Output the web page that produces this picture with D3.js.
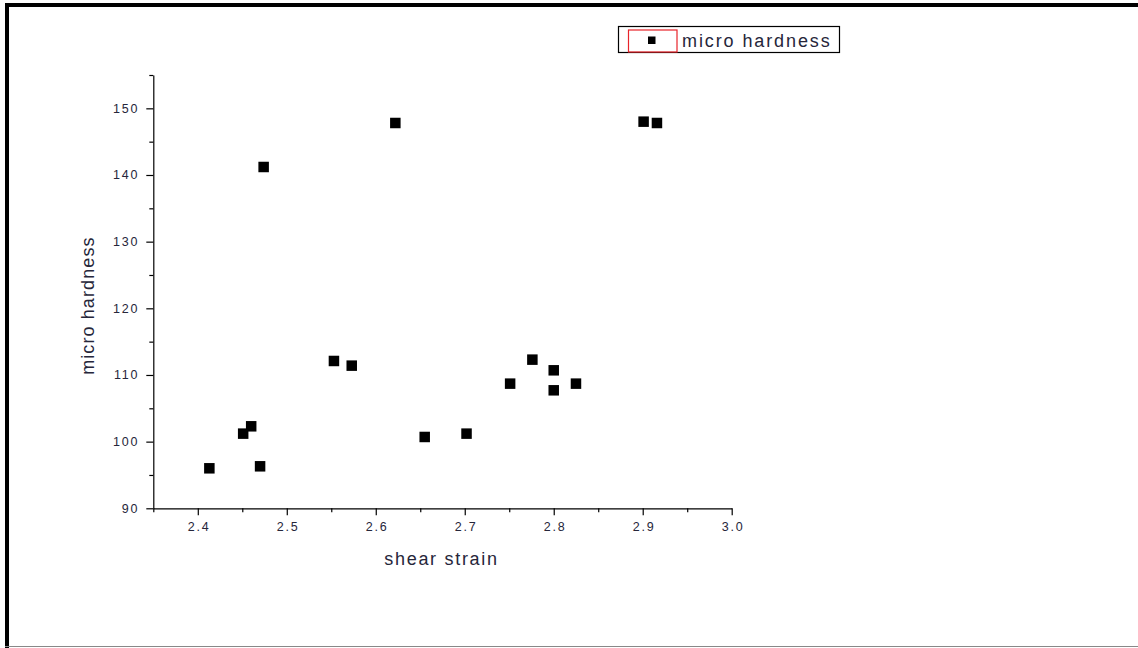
<!DOCTYPE html>
<html>
<head>
<meta charset="utf-8">
<script src="https://cdn.jsdelivr.net/npm/d3@7"></script>
<style>
  html, body { margin: 0; padding: 0; background: #fff; }
  svg { display: block; }
  text { font-family: "Liberation Sans", Arial, sans-serif; }
</style>
</head>
<body>
<svg id="chart" width="1138" height="648"></svg>
<script>
// Measured samples: shear strain vs. micro hardness
const shearStrain = [2.413, 2.451, 2.460, 2.470, 2.474, 2.553, 2.573, 2.622, 2.655,
                     2.702, 2.751, 2.776, 2.800, 2.800, 2.825, 2.901, 2.916];
const microHardness = [96.0, 101.2, 102.3, 96.3, 141.2, 112.1, 111.4, 147.8, 100.7,
                       101.2, 108.7, 112.3, 110.7, 107.7, 108.7, 148.0, 147.8];

const xTicks = [2.4, 2.5, 2.6, 2.7, 2.8, 2.9, 3.0];
const xMinorTicks = [2.35, 2.45, 2.55, 2.65, 2.75, 2.85, 2.95];
const yTicks = [90, 100, 110, 120, 130, 140, 150];
const yMinorTicks = [95, 105, 115, 125, 135, 145, 155];

const seriesName = "micro hardness";
const xTitle = "shear strain";
const yTitle = "micro hardness";

const svg = d3.select("#chart");

// Page frame
svg.append("line").attr("x1", 5).attr("x2", 1138).attr("y1", 5).attr("y2", 5)
  .attr("stroke", "#000").attr("stroke-width", 4);
svg.append("line").attr("x1", 7).attr("x2", 7).attr("y1", 3).attr("y2", 648)
  .attr("stroke", "#000").attr("stroke-width", 4);
svg.append("line").attr("x1", 5).attr("x2", 1138).attr("y1", 646.5).attr("y2", 646.5)
  .attr("stroke", "#888").attr("stroke-width", 1);

const x = d3.scaleLinear().domain([2.35, 3.0]).range([153.3, 731.7]);
const y = d3.scaleLinear().domain([90, 155]).range([508.3, 75]);

const axisColor = "#000";
const labelColor = "#26263a";
const tickFont = "12.5px";
const tickSpacing = "1.8px";

// Bottom axis
const gx = svg.append("g").attr("transform", `translate(0,${y(90)})`);
gx.call(d3.axisBottom(x).tickValues(xTicks).tickSize(7).tickPadding(7)
  .tickFormat(d3.format(".1f")).tickSizeOuter(0));
gx.append("g").call(d3.axisBottom(x).tickValues(xMinorTicks).tickSize(4)
  .tickFormat("").tickSizeOuter(0))
  .select(".domain").remove();
gx.selectAll(".tick text").attr("dx", "0.9px");

// Left axis
const gy = svg.append("g").attr("transform", `translate(${x(2.35)},0)`);
gy.call(d3.axisLeft(y).tickValues(yTicks).tickSize(7).tickPadding(7)
  .tickFormat(d3.format("d")).tickSizeOuter(0));
gy.append("g").call(d3.axisLeft(y).tickValues(yMinorTicks).tickSize(4)
  .tickFormat("").tickSizeOuter(0))
  .select(".domain").remove();

svg.selectAll(".domain, .tick line").attr("stroke", axisColor).attr("stroke-width", 1.2);
svg.selectAll(".tick text").attr("fill", labelColor)
  .style("font-size", tickFont)
  .style("letter-spacing", tickSpacing)
  .style("font-family", "'Liberation Sans', Arial, sans-serif");

// Axis titles
svg.append("text").attr("x", (x(2.35) + x(3.0)) / 2 - 1).attr("y", 565)
  .attr("text-anchor", "middle").attr("fill", labelColor)
  .style("font-size", "18px").style("letter-spacing", "1.7px").text(xTitle);
svg.append("text")
  .attr("transform", `translate(94,${(y(90) + y(155)) / 2 + 14}) rotate(-90)`)
  .attr("text-anchor", "middle").attr("fill", labelColor)
  .style("font-size", "18px").style("letter-spacing", "1.1px").text(yTitle);

// Scatter points
const pts = shearStrain.map((s, i) => ({ s, h: microHardness[i] }));
const size = 10.5;
svg.append("g").selectAll("rect").data(pts).join("rect")
  .attr("x", d => x(d.s) - size / 2)
  .attr("y", d => y(d.h) - size / 2)
  .attr("width", size).attr("height", size)
  .attr("fill", "#000");

// Legend
const lg = svg.append("g");
lg.append("rect").attr("x", 618.5).attr("y", 26.5).attr("width", 221).attr("height", 26)
  .attr("fill", "#fff").attr("stroke", "#000").attr("stroke-width", 1.2);
lg.append("rect").attr("x", 628.5).attr("y", 30).attr("width", 48.5).attr("height", 22)
  .attr("fill", "none").attr("stroke", "#e8242a").attr("stroke-width", 1.2);
lg.append("rect").attr("x", 648).attr("y", 36.5).attr("width", 7.5).attr("height", 7.5)
  .attr("fill", "#000");
lg.append("text").attr("x", 682).attr("y", 47).attr("fill", labelColor)
  .style("font-size", "18px").style("letter-spacing", "1.9px").text(seriesName);
</script>
</body>
</html>
